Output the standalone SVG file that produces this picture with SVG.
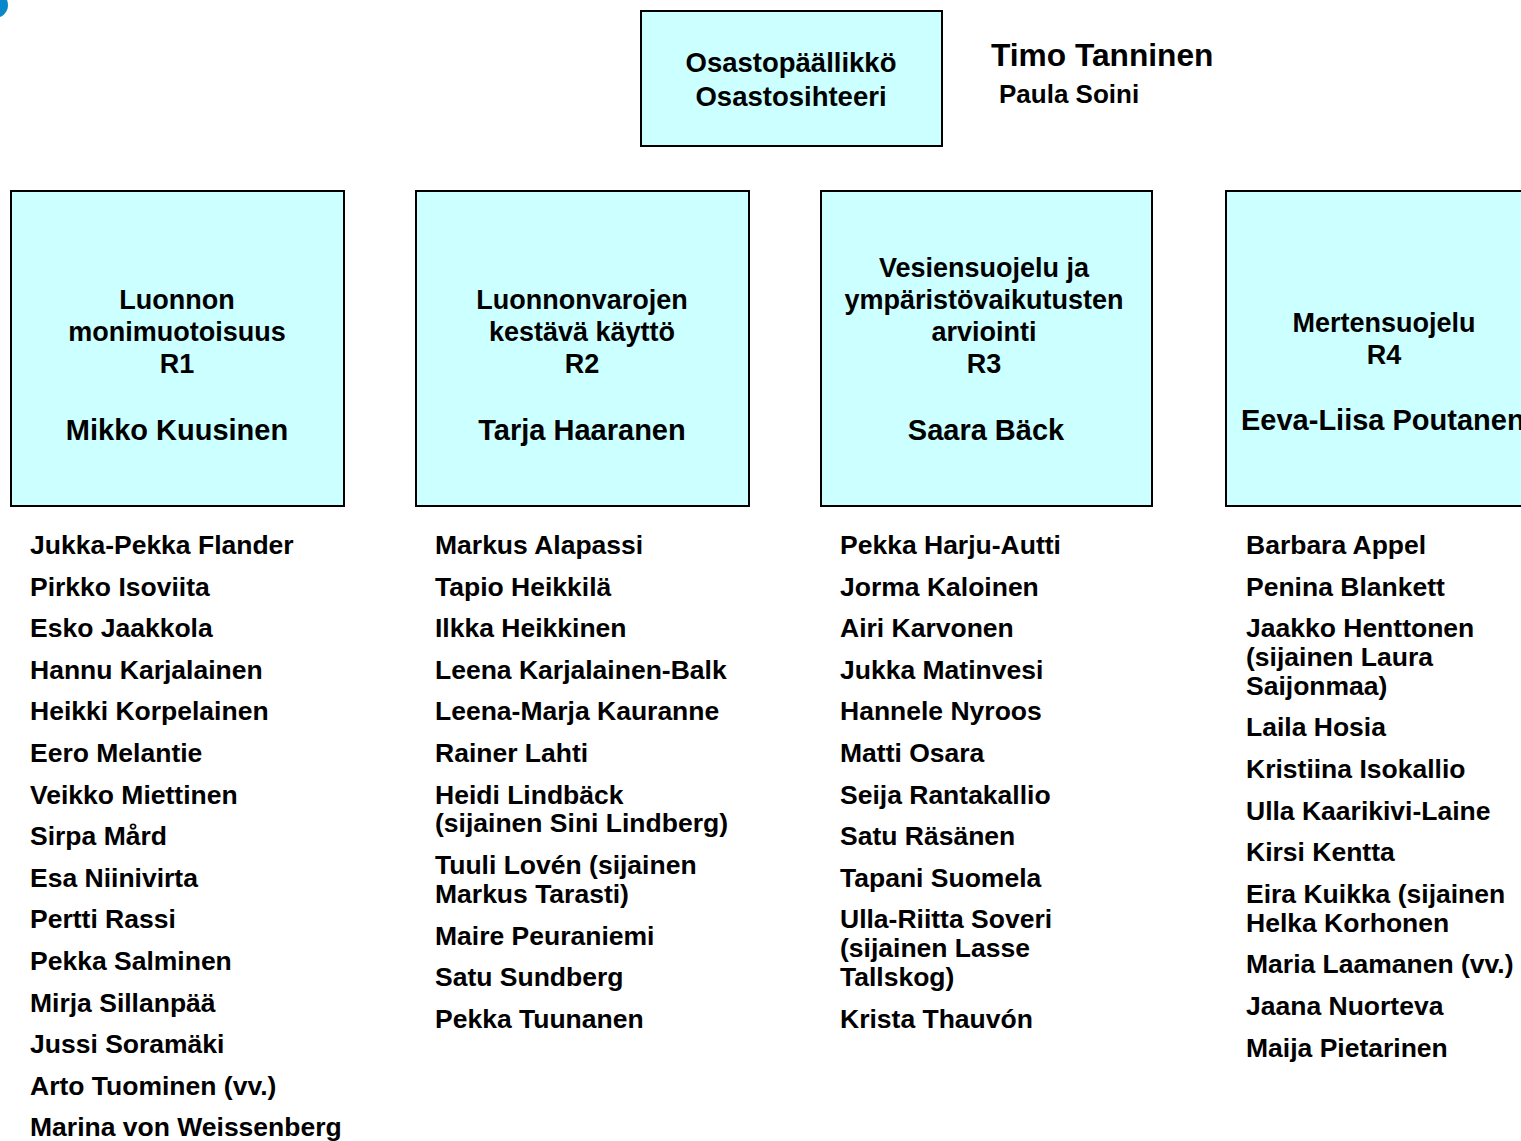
<svg xmlns="http://www.w3.org/2000/svg" width="1521" height="1141" viewBox="0 0 1521 1141">
<style>
text{font-family:"Liberation Sans",Arial,sans-serif;font-weight:bold;fill:#000}
.box{fill:#ccffff;stroke:#000;stroke-width:2}
.c{text-anchor:middle}
.t{font-size:27px}
.n{font-size:29px}
.l{font-size:26.5px}
</style>
<rect width="1521" height="1141" fill="#fff"/>
<circle cx="-5" cy="5" r="13" fill="#0a88c9"/>
<g id="head">
<rect class="box" x="641" y="11" width="301" height="135"/>
<text class="c" x="791" y="72" style="font-size:27.5px">Osastopäällikkö</text>
<text class="c" x="791" y="106" style="font-size:27.5px">Osastosihteeri</text>
</g>
<g id="head-names">
<text x="991" y="66" style="font-size:31.7px">Timo Tanninen</text>
<text x="999" y="103" style="font-size:26px">Paula Soini</text>
</g>
<g id="connectors"></g>
<g id="r1">
<rect class="box" x="11" y="191" width="333" height="315"/>
<text class="c t" x="177" y="309">Luonnon</text>
<text class="c t" x="177" y="341">monimuotoisuus</text>
<text class="c t" x="177" y="373">R1</text>
<text class="c n" x="177" y="440">Mikko Kuusinen</text>
</g>
<g id="r2">
<rect class="box" x="416" y="191" width="333" height="315"/>
<text class="c t" x="582" y="309">Luonnonvarojen</text>
<text class="c t" x="582" y="341">kestävä käyttö</text>
<text class="c t" x="582" y="373">R2</text>
<text class="c n" x="582" y="440">Tarja Haaranen</text>
</g>
<g id="r3">
<rect class="box" x="821" y="191" width="331" height="315"/>
<text class="c t" x="984" y="277">Vesiensuojelu ja</text>
<text class="c t" x="984" y="309">ympäristövaikutusten</text>
<text class="c t" x="984" y="341">arviointi</text>
<text class="c t" x="984" y="373">R3</text>
<text class="c n" x="986" y="440">Saara Bäck</text>
</g>
<g id="r4">
<rect class="box" x="1226" y="191" width="333" height="315"/>
<text class="c t" x="1384" y="332">Mertensuojelu</text>
<text class="c t" x="1384" y="364">R4</text>
<text class="n" x="1241" y="430">Eeva-Liisa Poutanen</text>
</g>
<g id="list1">
<text class="l" x="30" y="554">Jukka-Pekka Flander</text>
<text class="l" x="30" y="596">Pirkko Isoviita</text>
<text class="l" x="30" y="637">Esko Jaakkola</text>
<text class="l" x="30" y="679">Hannu Karjalainen</text>
<text class="l" x="30" y="720">Heikki Korpelainen</text>
<text class="l" x="30" y="762">Eero Melantie</text>
<text class="l" x="30" y="804">Veikko Miettinen</text>
<text class="l" x="30" y="845">Sirpa Mård</text>
<text class="l" x="30" y="887">Esa Niinivirta</text>
<text class="l" x="30" y="928">Pertti Rassi</text>
<text class="l" x="30" y="970">Pekka Salminen</text>
<text class="l" x="30" y="1012">Mirja Sillanpää</text>
<text class="l" x="30" y="1053">Jussi Soramäki</text>
<text class="l" x="30" y="1095">Arto Tuominen (vv.)</text>
<text class="l" x="30" y="1136">Marina von Weissenberg</text>
</g>
<g id="list2">
<text class="l" x="435" y="554">Markus Alapassi</text>
<text class="l" x="435" y="596">Tapio Heikkilä</text>
<text class="l" x="435" y="637">Ilkka Heikkinen</text>
<text class="l" x="435" y="679">Leena Karjalainen-Balk</text>
<text class="l" x="435" y="720">Leena-Marja Kauranne</text>
<text class="l" x="435" y="762">Rainer Lahti</text>
<text class="l" x="435" y="804">Heidi Lindbäck</text>
<text class="l" x="435" y="832">(sijainen Sini Lindberg)</text>
<text class="l" x="435" y="874">Tuuli Lovén (sijainen</text>
<text class="l" x="435" y="903">Markus Tarasti)</text>
<text class="l" x="435" y="945">Maire Peuraniemi</text>
<text class="l" x="435" y="986">Satu Sundberg</text>
<text class="l" x="435" y="1028">Pekka Tuunanen</text>
</g>
<g id="list3">
<text class="l" x="840" y="554">Pekka Harju-Autti</text>
<text class="l" x="840" y="596">Jorma Kaloinen</text>
<text class="l" x="840" y="637">Airi Karvonen</text>
<text class="l" x="840" y="679">Jukka Matinvesi</text>
<text class="l" x="840" y="720">Hannele Nyroos</text>
<text class="l" x="840" y="762">Matti Osara</text>
<text class="l" x="840" y="804">Seija Rantakallio</text>
<text class="l" x="840" y="845">Satu Räsänen</text>
<text class="l" x="840" y="887">Tapani Suomela</text>
<text class="l" x="840" y="928">Ulla-Riitta Soveri</text>
<text class="l" x="840" y="957">(sijainen Lasse</text>
<text class="l" x="840" y="986">Tallskog)</text>
<text class="l" x="840" y="1028">Krista Thauvón</text>
</g>
<g id="list4">
<text class="l" x="1246" y="554">Barbara Appel</text>
<text class="l" x="1246" y="596">Penina Blankett</text>
<text class="l" x="1246" y="637">Jaakko Henttonen</text>
<text class="l" x="1246" y="666">(sijainen Laura</text>
<text class="l" x="1246" y="695">Saijonmaa)</text>
<text class="l" x="1246" y="736">Laila Hosia</text>
<text class="l" x="1246" y="778">Kristiina Isokallio</text>
<text class="l" x="1246" y="820">Ulla Kaarikivi-Laine</text>
<text class="l" x="1246" y="861">Kirsi Kentta</text>
<text class="l" x="1246" y="903">Eira Kuikka (sijainen</text>
<text class="l" x="1246" y="932">Helka Korhonen</text>
<text class="l" x="1246" y="973">Maria Laamanen (vv.)</text>
<text class="l" x="1246" y="1015">Jaana Nuorteva</text>
<text class="l" x="1246" y="1057">Maija Pietarinen</text>
</g>
</svg>
